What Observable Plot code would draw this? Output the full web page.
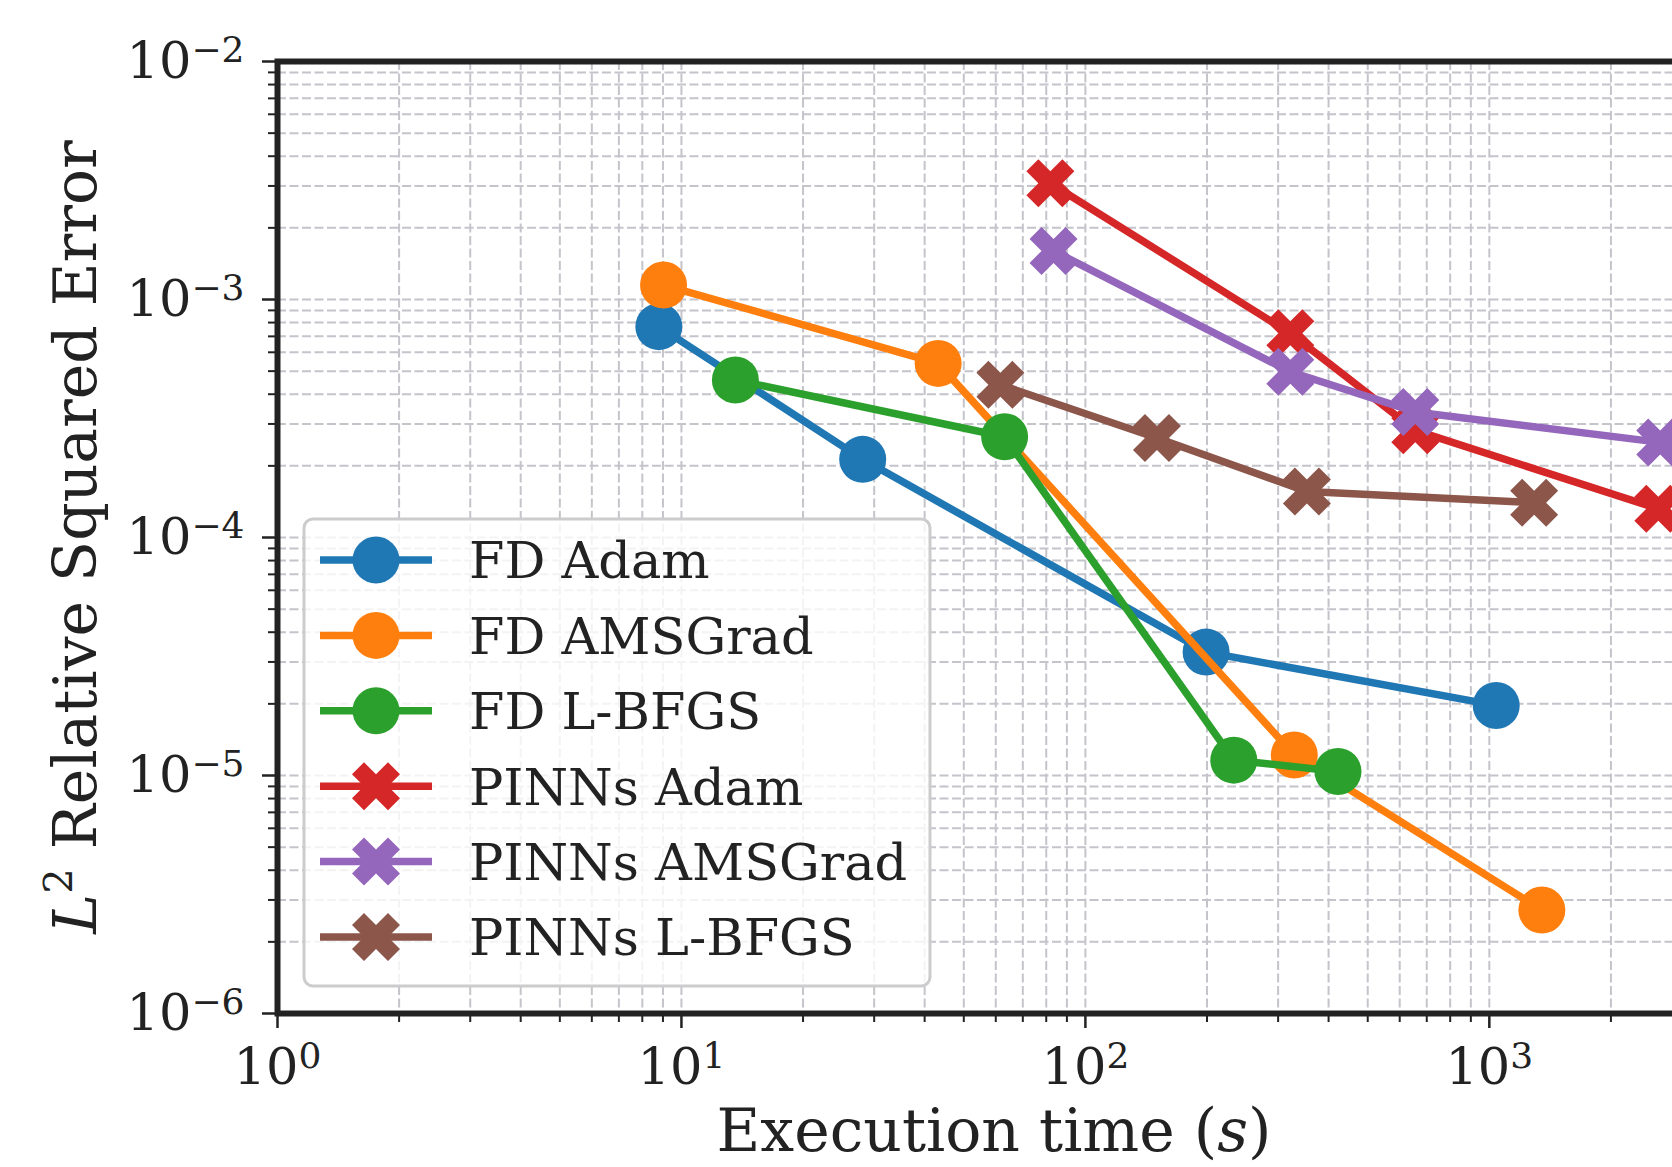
<!DOCTYPE html>
<html><head><meta charset="utf-8">
<script src="https://cdn.jsdelivr.net/npm/d3@7"></script>
<script src="https://cdn.jsdelivr.net/npm/@observablehq/plot@0.6"></script>
<style>
html,body{margin:0;padding:0;background:#fff;overflow:hidden;}
#chart{position:relative;width:1672px;height:1167px;overflow:hidden;}
#chart svg{display:block;max-width:none !important;}
</style></head><body><div id="chart"></div>
<script>
// ---- data ----
const seriesNames = ["FD Adam", "FD AMSGrad", "FD L-BFGS", "PINNs Adam", "PINNs AMSGrad", "PINNs L-BFGS"];
const seriesColors = ["#1f77b4", "#ff7f0e", "#2ca02c", "#d62728", "#9467bd", "#8c564b"];
const seriesMarkers = ["circle", "circle", "circle", "x", "x", "x"];

const fdAdamTime = [8.79, 28.1, 199, 1040];
const fdAdamError = [7.69e-4, 2.13e-4, 3.30e-5, 1.97e-5];
const fdAmsgradTime = [9.03, 43.2, 329, 1349];
const fdAmsgradError = [1.15e-3, 5.39e-4, 1.22e-5, 2.72e-6];
const fdLbfgsTime = [13.6, 63.1, 233, 422];
const fdLbfgsError = [4.59e-4, 2.65e-4, 1.16e-5, 1.04e-5];
const pinnsAdamTime = [81.9, 321.6, 655.6, 2620];
const pinnsAdamError = [3.08e-3, 7.21e-4, 2.82e-4, 1.32e-4];
const pinnsAmsgradTime = [83.4, 321.6, 655.6, 2649];
const pinnsAmsgradError = [1.60e-3, 4.97e-4, 3.37e-4, 2.51e-4];
const pinnsLbfgsTime = [61.6, 150.4, 353.5, 1291];
const pinnsLbfgsError = [4.38e-4, 2.62e-4, 1.56e-4, 1.40e-4];

const xMajorTicks = [1, 10, 100, 1000];
const xTickExponents = ["0", "1", "2", "3"];
const yMajorTicks = [1e-6, 1e-5, 1e-4, 1e-3, 1e-2];
const yTickExponents = ["\u22126", "\u22125", "\u22124", "\u22123", "\u22122"];

const xLabel = "Execution time";
const yLabelTail = " Relative Squared Error";

// ---- build table ----
const seriesTimes = [fdAdamTime, fdAmsgradTime, fdLbfgsTime, pinnsAdamTime, pinnsAmsgradTime, pinnsLbfgsTime];
const seriesErrors = [fdAdamError, fdAmsgradError, fdLbfgsError, pinnsAdamError, pinnsAmsgradError, pinnsLbfgsError];
const rows = [];
seriesNames.forEach((name, i) => {
  seriesTimes[i].forEach((t, j) => rows.push({series: name, time: t, error: seriesErrors[i][j]}));
});

// minor tick positions (2..9 per decade)
const xMinor = [], yMinor = [];
for (let e = 0; e <= 3; e++) for (let k = 2; k <= 9; k++) { const v = k * 10 ** e; if (v < 3540) xMinor.push(v); }
for (let e = -6; e <= -3; e++) for (let k = 2; k <= 9; k++) yMinor.push(k * 10 ** e);

// matplotlib-like filled "X" marker
const xFilled = {
  draw(context, size) {
    const h = Math.sqrt(size / Math.PI);
    const p = [[-0.5,-1],[0,-0.5],[0.5,-1],[1,-0.5],[0.5,0],[1,0.5],[0.5,1],[0,0.5],[-0.5,1],[-1,0.5],[-0.5,0],[-1,-0.5]];
    context.moveTo(p[0][0] * h, p[0][1] * h);
    for (let i = 1; i < p.length; i++) context.lineTo(p[i][0] * h, p[i][1] * h);
    context.closePath();
  }
};

const W = 1720, H = 1167;
const ML = 277, MT = 61, MB = 154, MR = 9;
const gridStyle = {stroke: "#c4c4cb", strokeOpacity: 1, strokeWidth: 2, strokeDasharray: "9,3.5"};
const ink = "#222222";
const LINE_W = 7.5, R_CIRCLE = 23.5, R_X = 24;

const marks = [
  Plot.gridX([...xMajorTicks, ...xMinor], gridStyle),
  Plot.gridY([...yMajorTicks, ...yMinor], gridStyle)
];
seriesNames.forEach((name, i) => {
  const d = rows.filter(r => r.series === name);
  marks.push(Plot.line(d, {x: "time", y: "error", stroke: "series", strokeWidth: LINE_W, strokeLinejoin: "round", strokeLinecap: "butt"}));
  marks.push(Plot.dot(d, {x: "time", y: "error", fill: "series", r: seriesMarkers[i] === "circle" ? R_CIRCLE : R_X,
    symbol: seriesMarkers[i] === "circle" ? "circle" : xFilled}));
});
marks.push(
  Plot.axisX(xMajorTicks, {anchor: "bottom", tickSize: 15, tickPadding: 19, strokeWidth: 2.5, stroke: ink, fill: ink,
    tickFormat: d => "10|" + xTickExponents[xMajorTicks.indexOf(d)], label: null}),
  Plot.axisX(xMinor, {anchor: "bottom", tickSize: 9, strokeWidth: 2, stroke: ink, tickFormat: () => "", label: null}),
  Plot.axisY(yMajorTicks, {anchor: "left", tickSize: 15, tickPadding: 18, strokeWidth: 2.5, stroke: ink, fill: ink,
    tickFormat: d => "10|" + yTickExponents[yMajorTicks.indexOf(d)], label: null}),
  Plot.axisY(yMinor, {anchor: "left", tickSize: 9, strokeWidth: 2, stroke: ink, tickFormat: () => "", label: null}),
  Plot.frame({stroke: ink, strokeWidth: 6})
);

const plot = Plot.plot({
  width: W, height: H,
  marginLeft: ML, marginTop: MT, marginBottom: MB, marginRight: MR,
  x: {type: "log", domain: [1, 10 ** 3.55]},
  y: {type: "log", domain: [1e-6, 1e-2]},
  color: {domain: seriesNames, range: seriesColors},
  style: {fontFamily: "'DejaVu Serif', serif", fontSize: "51px", background: "white", color: ink, overflow: "visible", maxWidth: "none"},
  marks
});
document.getElementById("chart").appendChild(plot);

const svg = d3.select(plot);
// superscript tick labels
svg.selectAll("text").each(function() {
  const t = this.textContent;
  if (!t || t.indexOf("|") < 0) return;
  const [base, exp] = t.split("|");
  const sel = d3.select(this);
  sel.text("");
  sel.append("tspan").text(base);
  sel.append("tspan").attr("dy", "-16px").attr("font-size", "36px").text(exp);
});

// axis labels
const xs = plot.scale("x"), ys = plot.scale("y");
const xMid = (xs.range[0] + xs.range[1]) / 2;
const yMid = (ys.range[0] + ys.range[1]) / 2;
const xl = svg.append("text").attr("x", xMid).attr("y", 1151).attr("text-anchor", "middle")
  .attr("font-size", "60px").attr("fill", ink);
xl.append("tspan").text(xLabel + " (");
xl.append("tspan").attr("font-style", "italic").text("s");
xl.append("tspan").text(")");

const yl = svg.append("text").attr("transform", `translate(96,${yMid}) rotate(-90)`).attr("text-anchor", "middle")
  .attr("font-size", "60px").attr("fill", ink);
yl.append("tspan").attr("font-style", "italic").text("L");
yl.append("tspan").attr("dy", "-24px").attr("font-size", "40px").text("2");
yl.append("tspan").attr("dy", "24px").text(yLabelTail);

// legend
const lg = svg.append("g").attr("class", "legend");
lg.append("rect").attr("x", 304).attr("y", 519).attr("width", 626).attr("height", 467).attr("rx", 9)
  .attr("fill", "white").attr("fill-opacity", 0.8).attr("stroke", "#cccccc").attr("stroke-width", 3);
const xPath = d3.symbol(xFilled, R_X * R_X * Math.PI)();
seriesNames.forEach((name, i) => {
  const cy = 560 + i * 75.4;
  lg.append("line").attr("x1", 320).attr("x2", 432).attr("y1", cy).attr("y2", cy)
    .attr("stroke", seriesColors[i]).attr("stroke-width", LINE_W);
  if (seriesMarkers[i] === "circle") {
    lg.append("circle").attr("cx", 376).attr("cy", cy).attr("r", R_CIRCLE).attr("fill", seriesColors[i]);
  } else {
    lg.append("path").attr("d", xPath).attr("transform", `translate(376,${cy})`).attr("fill", seriesColors[i]);
  }
  lg.append("text").attr("x", 469).attr("y", cy).attr("dy", "0.36em").attr("text-anchor", "start")
    .attr("font-size", "51px").attr("fill", ink).text(name);
});
</script></body></html>
